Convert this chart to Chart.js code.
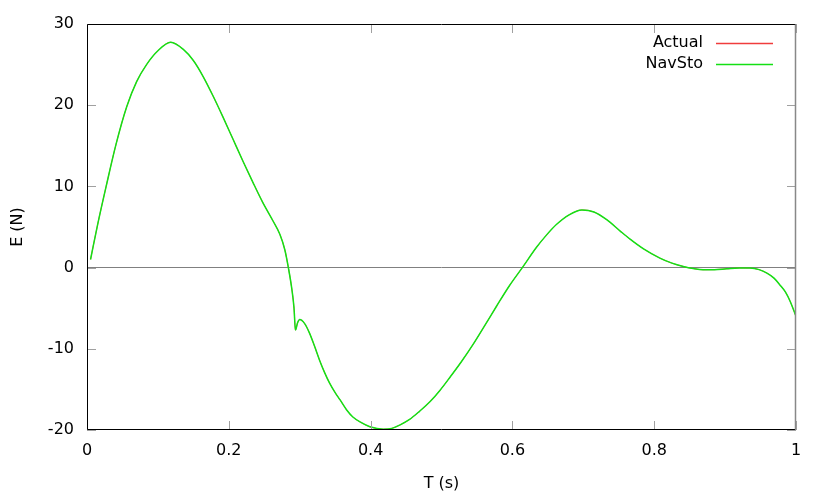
<!DOCTYPE html>
<html>
<head>
<meta charset="utf-8">
<script src="https://cdn.jsdelivr.net/npm/chart.js@4.4.1/dist/chart.umd.min.js"></script>
<style>
  html, body { margin: 0; padding: 0; background: #fff; }
  #wrap { width: 830px; height: 498px; }
</style>
</head>
<body>
<div id="wrap"><canvas id="chart" width="830" height="498"></canvas></div>
<script>
// values
const timeS = [
    0.005, 0.015, 0.027, 0.041, 0.056, 0.070, 0.084, 0.100, 0.118, 0.1355,
    0.150, 0.164, 0.178, 0.192, 0.206, 0.220, 0.234, 0.248, 0.262, 0.272,
    0.279, 0.284, 0.289, 0.292, 0.294, 0.297, 0.300,
    0.307, 0.314, 0.321, 0.328, 0.335, 0.342, 0.350, 0.357, 0.366, 0.375,
    0.387, 0.399, 0.418, 0.430, 0.441, 0.455, 0.469, 0.484, 0.498, 0.512,
    0.528, 0.545, 0.562, 0.578, 0.596, 0.614, 0.634, 0.648, 0.662, 0.680,
    0.698, 0.715, 0.733, 0.752, 0.766, 0.785, 0.808, 0.825, 0.841, 0.855,
    0.869, 0.885, 0.902, 0.920, 0.935, 0.948, 0.959, 0.969, 0.977, 0.985,
    0.992, 1.000
];
const navStoE = [
    1.0, 5.3, 10.0, 15.2, 19.8, 22.9, 25.0, 26.7, 27.75, 26.9,
    25.5, 23.5, 21.1, 18.5, 15.8, 13.1, 10.5, 8.0, 5.8, 4.1,
    2.2, 0.0, -2.7, -5.0, -7.7, -6.8, -6.4,
    -6.9, -8.1, -9.7, -11.4, -12.9, -14.2, -15.4, -16.3, -17.5, -18.4,
    -19.1, -19.6, -19.9, -19.8, -19.4, -18.7, -17.7, -16.5, -15.1, -13.5,
    -11.6, -9.4, -7.0, -4.7, -2.2, 0.0, 2.5, 4.0, 5.3, 6.5,
    7.1, 6.85, 5.9, 4.5, 3.5, 2.3, 1.17, 0.55, 0.14, -0.12,
    -0.27, -0.25, -0.15, -0.05, -0.06, -0.25, -0.68, -1.3, -2.1, -3.0,
    -4.2, -6.0
];
// the red curve is fully hidden under the green one in the picture
const actualE = [
    1.0, 5.3, 10.0, 15.2, 19.8, 22.9, 25.0, 26.7, 27.75, 26.9,
    25.5, 23.5, 21.1, 18.5, 15.8, 13.1, 10.5, 8.0, 5.8, 4.1,
    2.2, 0.0, -2.7, -5.0, -7.7, -6.8, -6.4,
    -6.9, -8.1, -9.7, -11.4, -12.9, -14.2, -15.4, -16.3, -17.5, -18.4,
    -19.1, -19.6, -19.9, -19.8, -19.4, -18.7, -17.7, -16.5, -15.1, -13.5,
    -11.6, -9.4, -7.0, -4.7, -2.2, 0.0, 2.5, 4.0, 5.3, 6.5,
    7.1, 6.85, 5.9, 4.5, 3.5, 2.3, 1.17, 0.55, 0.14, -0.12,
    -0.27, -0.25, -0.15, -0.05, -0.06, -0.25, -0.68, -1.3, -2.1, -3.0,
    -4.2, -6.0
];
const xTicks = [0, 0.2, 0.4, 0.6, 0.8, 1];
const yTicks = [-20, -10, 0, 10, 20, 30];
const seriesNames = ['Actual', 'NavSto'];
const seriesColors = ['rgb(240, 60, 60)', 'rgb(20, 224, 20)'];

Chart.defaults.font.family = '"DejaVu Sans", sans-serif';
Chart.defaults.font.size = 16;
Chart.defaults.color = '#000';

function toPoints(xs, ys) {
    return xs.map((t, i) => ({ x: t, y: ys[i] }));
}

// gnuplot-like frame: inward ticks on all four sides, border, key top right
const gnuFrame = {
    id: 'gnuFrame',
    afterDatasetsDraw(chart) {
        const { ctx, chartArea: a, scales: { x, y } } = chart;
        ctx.save();
        ctx.lineWidth = 1;
        ctx.strokeStyle = '#a0a0a0';
        ctx.beginPath();
        xTicks.forEach(v => {
            const px = Math.round(x.getPixelForValue(v)) + 0.5;
            ctx.moveTo(px, a.bottom); ctx.lineTo(px, a.bottom - 9);
            ctx.moveTo(px, a.top); ctx.lineTo(px, a.top + 9);
        });
        yTicks.forEach(v => {
            const py = Math.round(y.getPixelForValue(v)) + 0.5;
            ctx.moveTo(a.left, py); ctx.lineTo(a.left + 9, py);
            ctx.moveTo(a.right, py); ctx.lineTo(a.right - 9, py);
        });
        ctx.stroke();

        const l = Math.round(a.left) + 0.5, r = Math.round(a.right) - 0.5;
        const t = Math.round(a.top) + 0.5, b = Math.round(a.bottom) - 0.5;
        ctx.strokeStyle = '#000';
        ctx.beginPath();
        ctx.moveTo(r, t); ctx.lineTo(l, t); ctx.lineTo(l, b); ctx.lineTo(r, b);
        ctx.stroke();
        ctx.strokeStyle = '#888';
        ctx.lineWidth = 1.5;
        ctx.beginPath();
        ctx.moveTo(r, t); ctx.lineTo(r, b);
        ctx.stroke();

        // key
        ctx.font = '16px "DejaVu Sans", sans-serif';
        ctx.textAlign = 'right';
        ctx.textBaseline = 'middle';
        seriesNames.forEach((name, i) => {
            const ky = Math.round(a.top) + 19 + i * 21;
            ctx.fillStyle = '#000';
            ctx.fillText(name, a.right - 93, ky);
            ctx.strokeStyle = seriesColors[i];
            ctx.lineWidth = 1.5;
            ctx.beginPath();
            ctx.moveTo(a.right - 80, ky + 0.5);
            ctx.lineTo(a.right - 23, ky + 0.5);
            ctx.stroke();
        });
        ctx.restore();
    }
};

new Chart(document.getElementById('chart'), {
    type: 'line',
    data: {
        datasets: [
            {
                label: seriesNames[0],
                data: toPoints(timeS, actualE),
                borderColor: seriesColors[0],
                borderWidth: 0.8,
                pointRadius: 0,
                cubicInterpolationMode: 'monotone',
                order: 2
            },
            {
                label: seriesNames[1],
                data: toPoints(timeS, navStoE),
                borderColor: seriesColors[1],
                borderWidth: 1.5,
                pointRadius: 0,
                cubicInterpolationMode: 'monotone',
                order: 1
            }
        ]
    },
    options: {
        responsive: false,
        animation: false,
        devicePixelRatio: 1,
        layout: { padding: { left: 0, top: 24, right: 34, bottom: 0 } },
        plugins: {
            legend: { display: false },
            tooltip: { enabled: false }
        },
        scales: {
            x: {
                type: 'linear',
                min: 0,
                max: 1,
                afterFit: s => { s.height = 68; },
                afterBuildTicks: s => { s.ticks = xTicks.map(v => ({ value: v })); },
                ticks: {
                    padding: 11,
                    color: '#000',
                    callback: v => String(+v.toFixed(1))
                },
                grid: { display: false, drawTicks: false },
                border: { display: false },
                title: { display: true, text: 'T (s)', color: '#000', padding: { top: 0, bottom: 5 } }
            },
            y: {
                min: -20,
                max: 30,
                afterFit: s => { s.width = 87; },
                afterBuildTicks: s => { s.ticks = yTicks.map(v => ({ value: v })); },
                ticks: { padding: 13, color: '#000' },
                grid: {
                    drawTicks: false,
                    lineWidth: 1,
                    color: c => (c.tick && c.tick.value === 0) ? '#808080' : 'rgba(0,0,0,0)'
                },
                border: { display: false },
                title: { display: true, text: 'E (N)', color: '#000', padding: { top: 8, bottom: 0 } }
            }
        }
    },
    plugins: [gnuFrame]
});
</script>
</body>
</html>
